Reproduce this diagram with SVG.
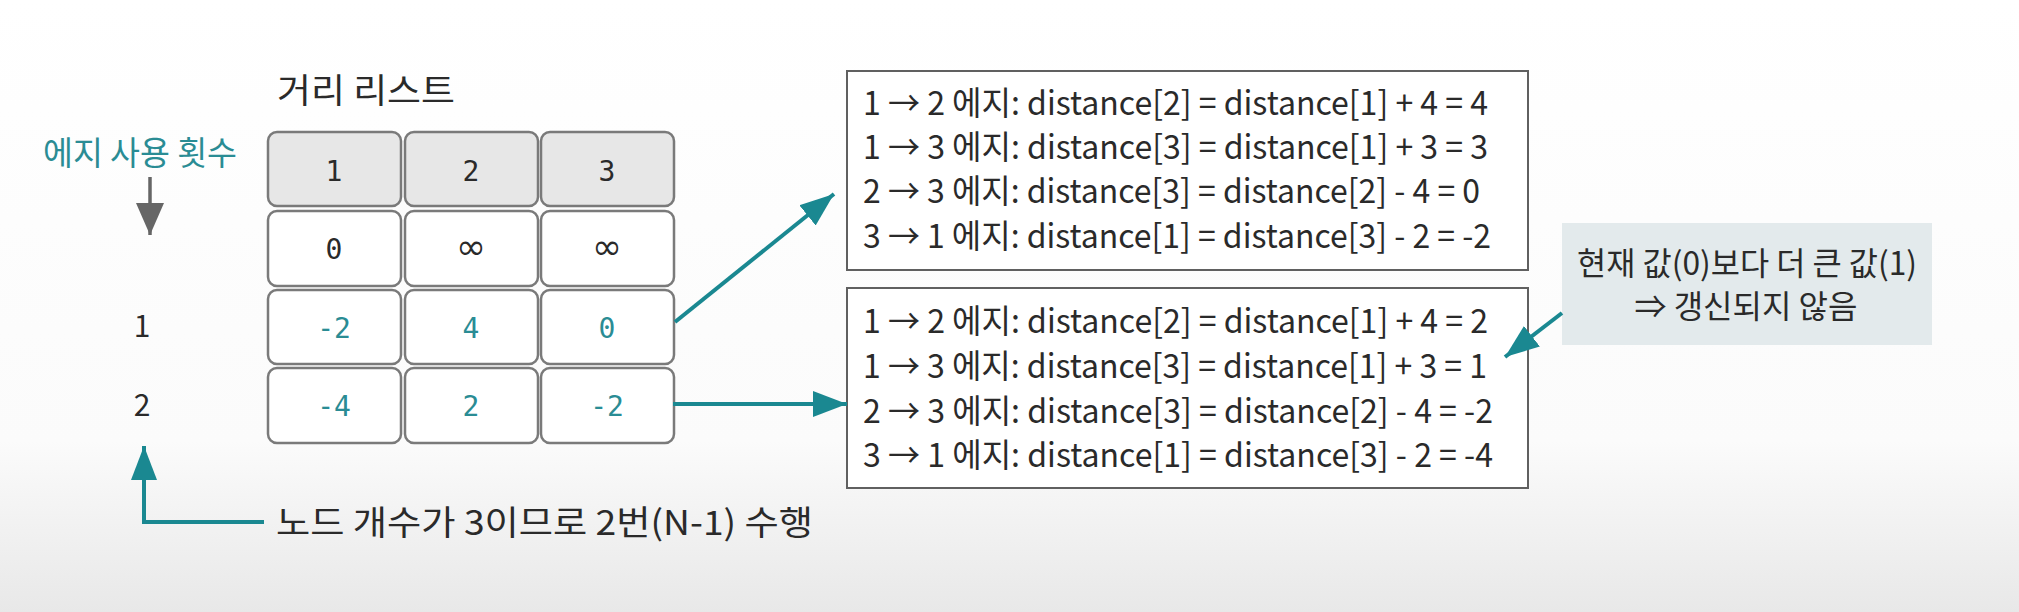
<svg xmlns="http://www.w3.org/2000/svg" width="2019" height="612" viewBox="0 0 2019 612">
<defs>
<linearGradient id="bg" x1="0" y1="0" x2="0" y2="1">
<stop offset="0" stop-color="#ffffff"/>
<stop offset="0.72" stop-color="#fbfbfb"/>
<stop offset="1" stop-color="#e8e8e8"/>
</linearGradient>
<marker id="teal" markerUnits="userSpaceOnUse" markerWidth="36" markerHeight="30" refX="34" refY="15" orient="auto">
<path d="M0,2 L34,15 L0,28 Z" fill="#1a8891"/>
</marker>
<marker id="gray" markerUnits="userSpaceOnUse" markerWidth="34" markerHeight="30" refX="32" refY="15" orient="auto">
<path d="M0,1 L32,15 L0,29 Z" fill="#666666"/>
</marker>
<style>
.t{font-family:"Noto Sans CJK KR","Noto Sans",sans-serif;fill:#2a2a2a}
.teal{fill:#2a8c94}
.cell{fill:#ffffff;stroke:#7a7a7a;stroke-width:2.5}
.head{fill:#e7e7e7;stroke:#7a7a7a;stroke-width:2.5}
.num{font-family:"DejaVu Sans Mono",monospace;font-size:28px;text-anchor:middle;fill:#2a2a2a}
.inf{font-family:"DejaVu Sans",sans-serif;font-size:36px;text-anchor:middle;fill:#2a2a2a}
.numt{fill:#2a8c94}
.box{fill:#ffffff;stroke:#606060;stroke-width:2}
.eq{font-size:33px}
.conn{stroke:#1a8891;stroke-width:4;fill:none}
</style>
</defs>
<rect x="0" y="0" width="2019" height="612" fill="url(#bg)"/>

<g id="title">
<text class="t" x="277" y="103" font-size="34" textLength="178" lengthAdjust="spacingAndGlyphs">거리 리스트</text>
</g>
<g id="edge-count-label">
<text class="t teal" x="43" y="165" font-size="33" textLength="194" lengthAdjust="spacingAndGlyphs">에지 사용 횟수</text>
</g>
<g id="row-labels">
<text class="t" x="142" y="337" font-size="30" text-anchor="middle">1</text>
<text class="t" x="142" y="416" font-size="30" text-anchor="middle">2</text>
</g>

<g id="table">
<rect class="head" x="268" y="132" width="133" height="74" rx="9"/>
<rect class="head" x="405" y="132" width="133" height="74" rx="9"/>
<rect class="head" x="541" y="132" width="133" height="74" rx="9"/>
<text class="num" x="334" y="181">1</text>
<text class="num" x="471" y="181">2</text>
<text class="num" x="607" y="181">3</text>

<rect class="cell" x="268" y="211" width="133" height="75" rx="9"/>
<rect class="cell" x="405" y="211" width="133" height="75" rx="9"/>
<rect class="cell" x="541" y="211" width="133" height="75" rx="9"/>
<text class="num" x="334" y="259">0</text>
<text class="inf" x="471" y="259">∞</text>
<text class="inf" x="607" y="259">∞</text>

<rect class="cell" x="268" y="290" width="133" height="74" rx="9"/>
<rect class="cell" x="405" y="290" width="133" height="74" rx="9"/>
<rect class="cell" x="541" y="290" width="133" height="74" rx="9"/>
<text class="num numt" x="334" y="338">-2</text>
<text class="num numt" x="471" y="338">4</text>
<text class="num numt" x="607" y="338">0</text>

<rect class="cell" x="268" y="368" width="133" height="75" rx="9"/>
<rect class="cell" x="405" y="368" width="133" height="75" rx="9"/>
<rect class="cell" x="541" y="368" width="133" height="75" rx="9"/>
<text class="num numt" x="334" y="416">-4</text>
<text class="num numt" x="471" y="416">2</text>
<text class="num numt" x="607" y="416">-2</text>
</g>

<g id="box-iter1">
<rect class="box" x="847" y="71" width="681" height="199"/>
<text class="t eq" x="863" y="115" textLength="625" lengthAdjust="spacingAndGlyphs">1 → 2 에지: distance[2] = distance[1] + 4 = 4</text>
<text class="t eq" x="863" y="159" textLength="625" lengthAdjust="spacingAndGlyphs">1 → 3 에지: distance[3] = distance[1] + 3 = 3</text>
<text class="t eq" x="863" y="203" textLength="617" lengthAdjust="spacingAndGlyphs">2 → 3 에지: distance[3] = distance[2] - 4 = 0</text>
<text class="t eq" x="863" y="248" textLength="628" lengthAdjust="spacingAndGlyphs">3 → 1 에지: distance[1] = distance[3] - 2 = -2</text>
</g>

<g id="box-iter2">
<rect class="box" x="847" y="288" width="681" height="200"/>
<text class="t eq" x="863" y="333" textLength="625" lengthAdjust="spacingAndGlyphs">1 → 2 에지: distance[2] = distance[1] + 4 = 2</text>
<text class="t eq" x="863" y="378" textLength="624" lengthAdjust="spacingAndGlyphs">1 → 3 에지: distance[3] = distance[1] + 3 = 1</text>
<text class="t eq" x="863" y="423" textLength="630" lengthAdjust="spacingAndGlyphs">2 → 3 에지: distance[3] = distance[2] - 4 = -2</text>
<text class="t eq" x="863" y="467" textLength="630" lengthAdjust="spacingAndGlyphs">3 → 1 에지: distance[1] = distance[3] - 2 = -4</text>
</g>

<g id="note">
<rect x="1562" y="223" width="370" height="122" fill="#e3eaec"/>
<text class="t" x="1747" y="275" font-size="32" text-anchor="middle" textLength="340" lengthAdjust="spacingAndGlyphs">현재 값(0)보다 더 큰 값(1)</text>
<text class="t" x="1746" y="318" font-size="32" text-anchor="middle" textLength="223" lengthAdjust="spacingAndGlyphs">⇒ 갱신되지 않음</text>
</g>

<g id="bottom-label">
<text class="t" x="276" y="535" font-size="34" textLength="537" lengthAdjust="spacingAndGlyphs">노드 개수가 3이므로 2번(N-1) 수행</text>
</g>

<g id="connectors">
<line x1="150" y1="177" x2="150" y2="235" stroke="#666666" stroke-width="3.5" marker-end="url(#gray)"/>
<path class="conn" d="M264,522 H144 V446" marker-end="url(#teal)"/>
<line class="conn" x1="675" y1="322" x2="834" y2="194" marker-end="url(#teal)"/>
<line class="conn" x1="673" y1="404" x2="847" y2="404" marker-end="url(#teal)"/>
<line class="conn" x1="1562" y1="313" x2="1505" y2="357" marker-end="url(#teal)"/>
</g>
</svg>
